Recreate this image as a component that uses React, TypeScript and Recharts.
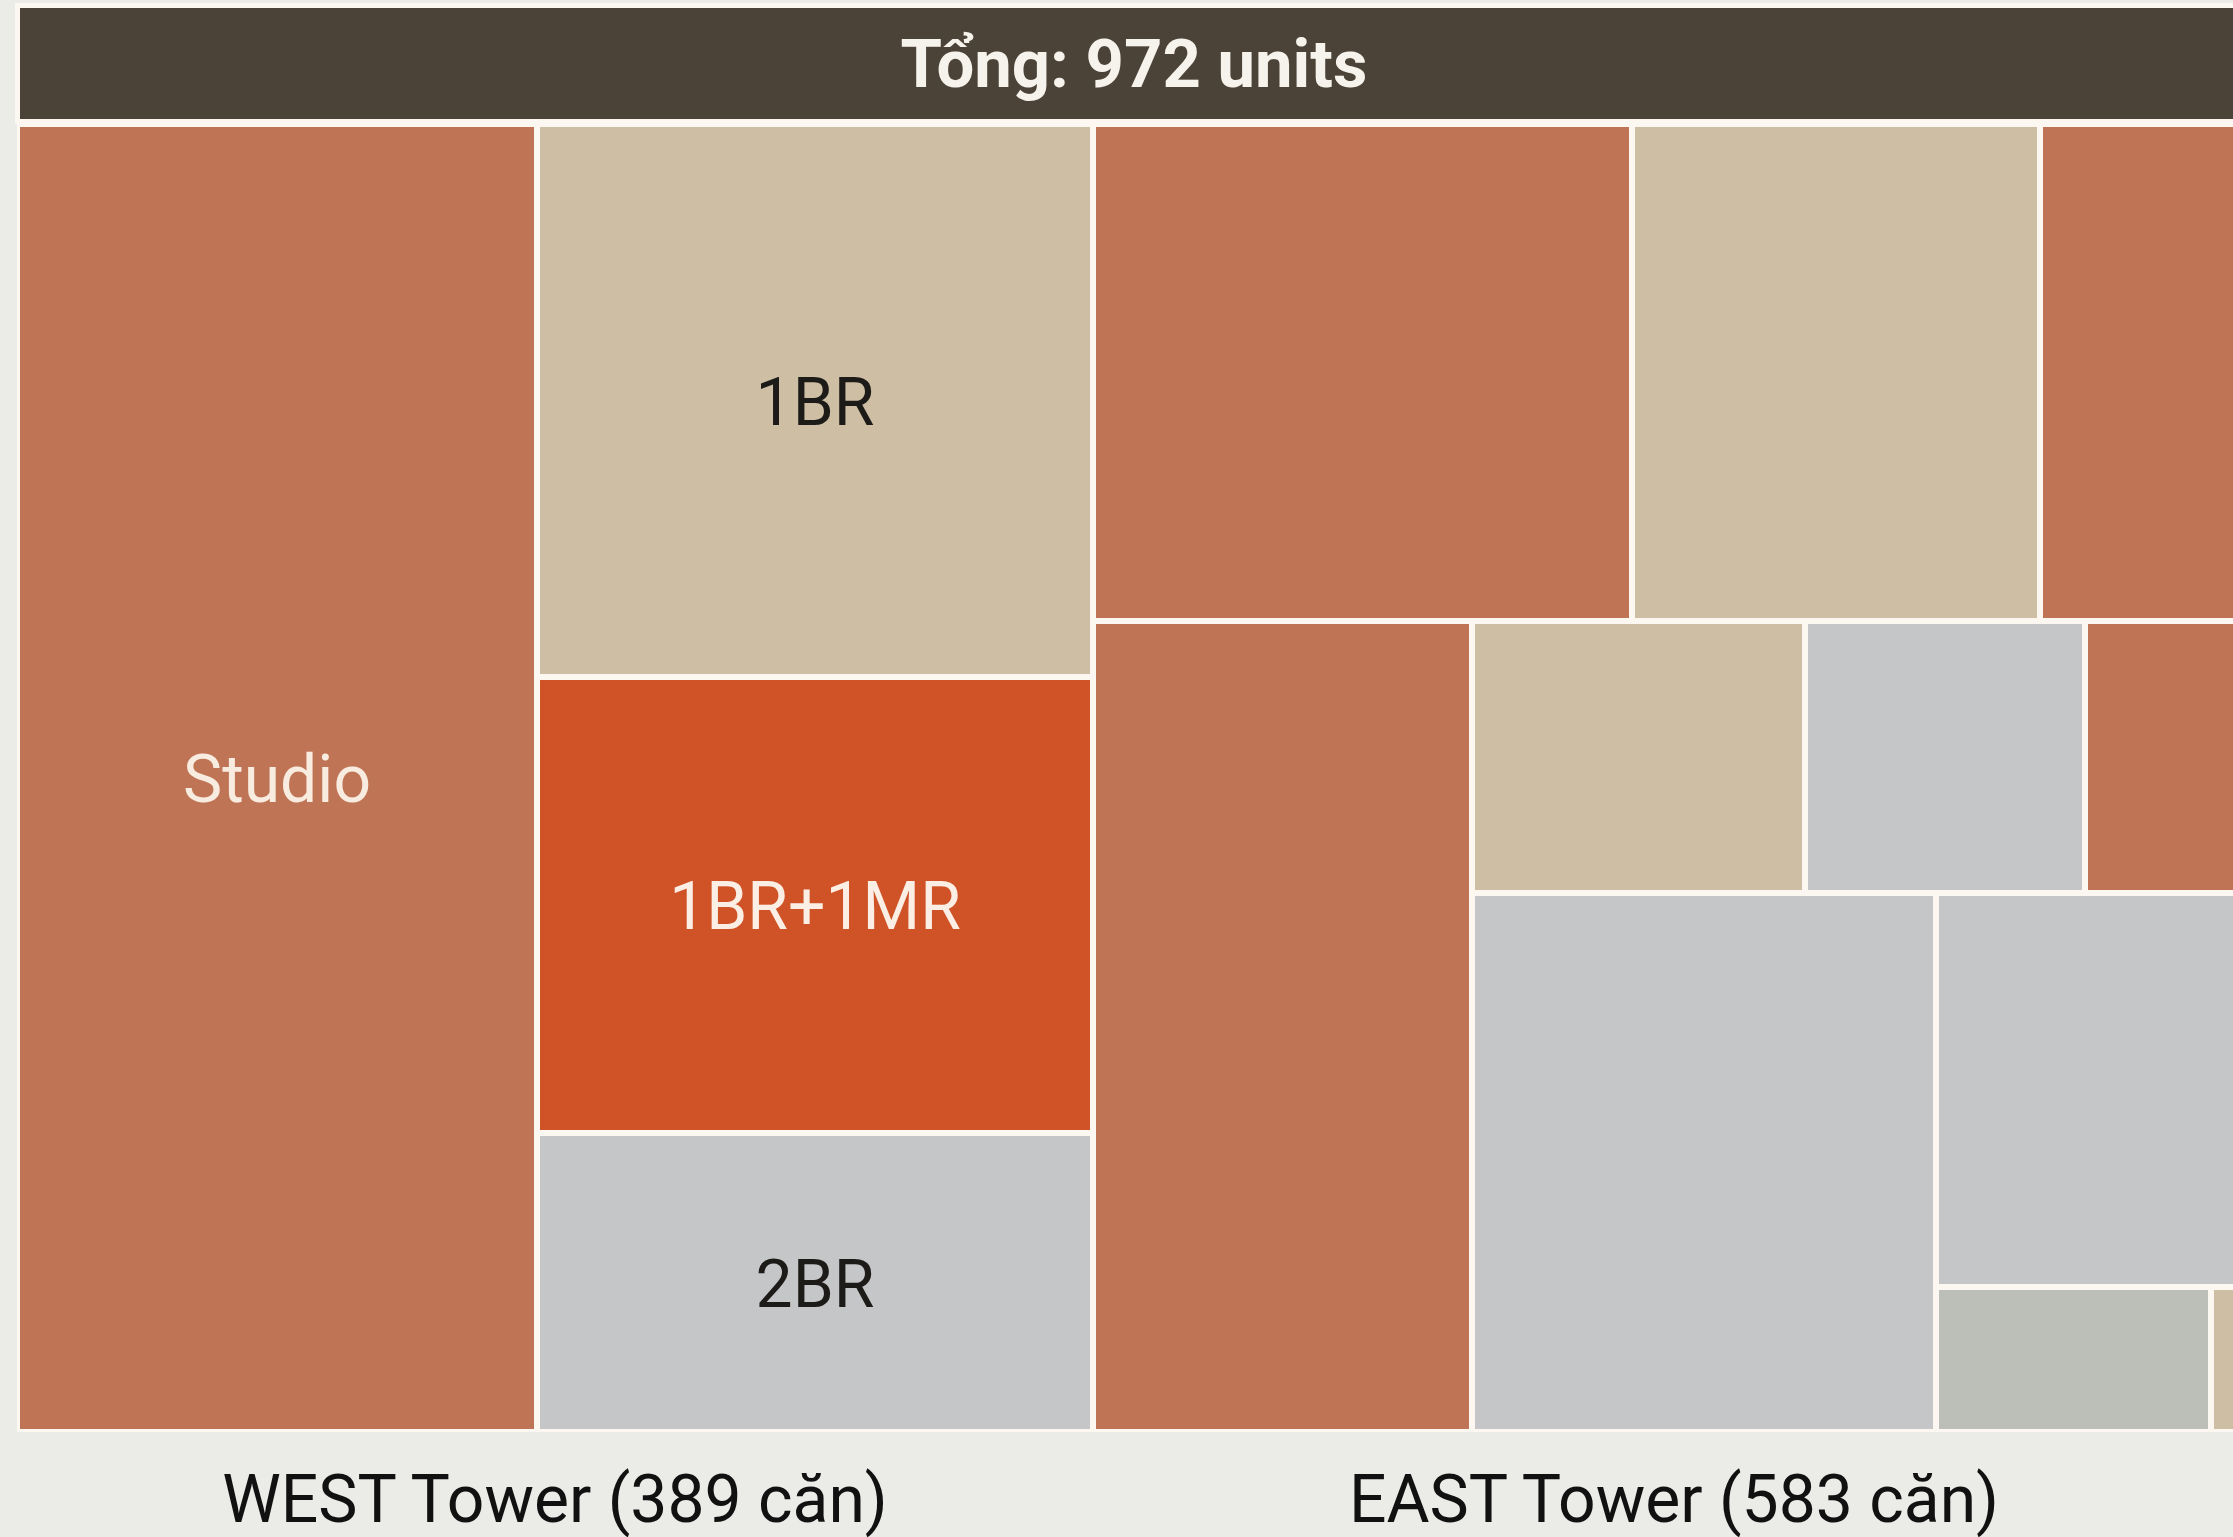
import { Treemap } from 'recharts';

// unit counts per block (areas)
const towers = ['WEST', 'EAST'];

const westStudio = [{ name: 'Studio', kind: 'Studio', units: 188 }];
const westStack = [
  { name: '1BR', kind: '1BR', units: 85 },
  { name: '1BR+1MR', kind: '1BR+1MR', units: 70 },
  { name: '2BR', kind: '2BR', units: 46 },
];

// EAST tower: visible part (top row, tall column, block) + part cut off at the right edge
const eastTop = [
  { name: 'Studio', kind: 'Studio', units: 74 },
  { name: '1BR', kind: '1BR', units: 56 },
  { name: 'Studio', kind: 'Studio', units: 30 },
];
const eastTall = [{ name: 'Studio', kind: 'Studio', units: 85 }];
const eastBlock = [
  { name: '1BR', kind: '1BR', units: 25 },
  { name: '2BR', kind: '2BR', units: 21 },
  { name: 'Studio', kind: 'Studio', units: 13 },
  { name: '2BR', kind: '2BR', units: 69 },
  { name: '2BR', kind: '2BR', units: 35 },
  { name: '3BR', kind: '3BR', units: 11 },
  { name: '1BR', kind: '1BR', units: 2 },
];
const eastHidden = [
  { name: 'Studio', kind: 'Studio', units: 60 },
  { name: '1BR', kind: '1BR', units: 46 },
  { name: '2BR', kind: '2BR', units: 56 },
];

const fills: Record<string, string> = {
  Studio: '#bf7455',
  '1BR': '#cebfa4',
  '1BR+1MR': '#d05227',
  '2BR': '#c5c6c8',
  '3BR': '#bcbfb8',
};
const labelColors: Record<string, string> = {
  Studio: '#f8ebdf',
  '1BR': '#1d1b18',
  '1BR+1MR': '#fbeee4',
  '2BR': '#1d1b18',
  '3BR': '#1d1b18',
};

const tag = (tower: string, arr: any[]) => arr.map((d) => ({ ...d, tower }));
const sum = (arr: any[]) => arr.reduce((s, d) => s + d.units, 0);

const treeData = [
  {
    name: 'WEST',
    children: [
      ...tag('WEST', westStudio),
      { name: 'WEST-b', children: tag('WEST', westStack) },
    ],
  },
  {
    name: 'EAST',
    children: [
      {
        name: 'EAST-a',
        children: [
          ...tag('EAST', eastTop),
          ...tag('EAST', eastTall),
          { name: 'EAST-b', children: tag('EAST', eastBlock) },
        ],
      },
      { name: 'EAST-c', children: tag('EAST', eastHidden) },
    ],
  },
];

const westTotal = sum(westStudio) + sum(westStack);
const eastTotal = sum(eastTop) + sum(eastTall) + sum(eastBlock) + sum(eastHidden);
const towerTotals = [westTotal, eastTotal];
const total = westTotal + eastTotal;

const FONT = 'Roboto, "Noto Sans", sans-serif';

const Cell = (props: any) => {
  const { x, y, width, height, children, kind, tower, name } = props;
  if (children && children.length) return <g />;
  if (!kind) return <g />;
  return (
    <g>
      <rect x={x} y={y} width={width} height={height} fill={fills[kind]} stroke="#fcf7f1" strokeWidth={6} />
      {tower === 'WEST' && (
        <text
          x={x + width / 2}
          y={y + height / 2 + 24}
          textAnchor="middle"
          fontFamily={FONT}
          fontSize={66}
          fill={labelColors[kind]}
        >
          {name}
        </text>
      )}
    </g>
  );
};

export default function App() {
  const labelX = [555, 1674];
  return (
    <div style={{ position: 'fixed', inset: 0, overflow: 'hidden', background: '#ebebe8', fontFamily: FONT }}>
      <div
        style={{
          position: 'absolute', left: 20, top: 8, width: 2689, height: 111,
          background: '#4b4337', boxShadow: '0 0 0 5px #fcf7f1',
        }}
      />
      <div style={{ position: 'absolute', left: 17, top: 124 }}>
        <Treemap
          width={2689}
          height={1308}
          data={treeData}
          dataKey="units"
          nameKey="name"
          aspectRatio={1.33}
          isAnimationActive={false}
          content={(p: any) => <Cell {...p} />}
        />
      </div>
      <svg width={2233} height={1537} style={{ position: 'absolute', left: 0, top: 0, pointerEvents: 'none' }}>
        <text x={1134} y={87} textAnchor="middle" fontFamily={FONT} fontWeight={700} fontSize={67} fill="#f6f2ec">
          {`Tổng: ${total} units`}
        </text>
        {towers.map((t, i) => (
          <text key={t} x={labelX[i]} y={1522} textAnchor="middle" fontFamily={FONT} fontSize={66} fill="#111">
            {`${t} Tower (${towerTotals[i]} căn)`}
          </text>
        ))}
      </svg>
    </div>
  );
}
